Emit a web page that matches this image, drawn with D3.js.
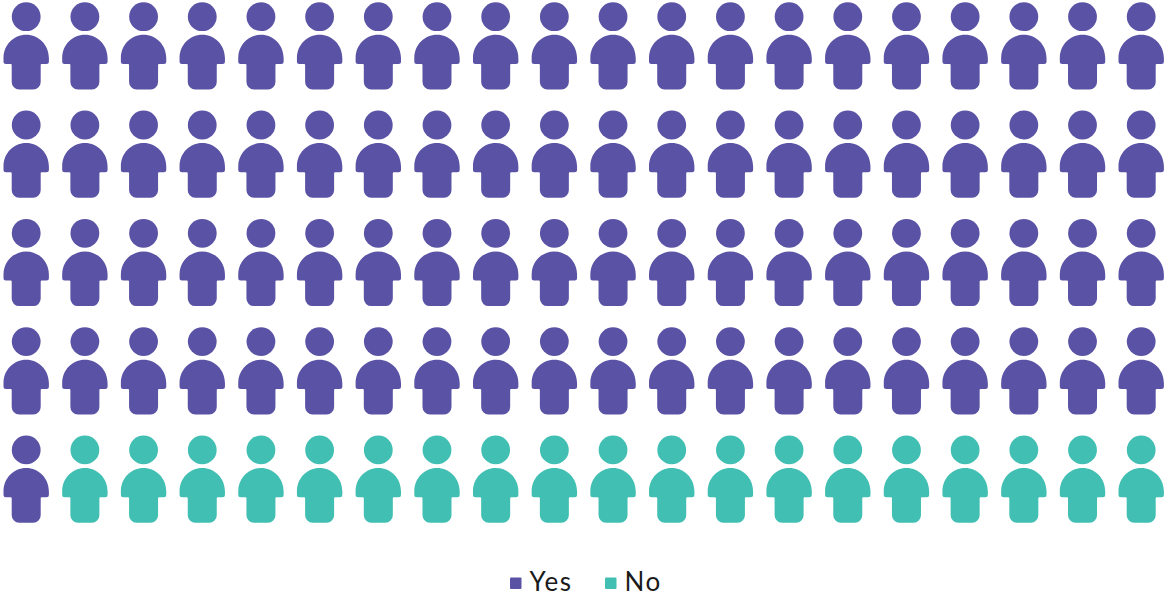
<!DOCTYPE html>
<html><head><meta charset="utf-8">
<script src="https://cdn.jsdelivr.net/npm/d3@7"></script>
<style>html,body{margin:0;padding:0;background:#fff;overflow:hidden}svg{display:block}</style>
</head><body><svg id="c" width="1166" height="596"></svg>
<script>
const categories = ["Yes","No"];
const counts = [81,19];
const colors = ["#5a53a5","#40bfb2"];
const columns = 20, rows = 5;

const svg = d3.select("#c");
const x = d3.scaleLinear().domain([0,columns-1]).range([26.2,1141.2]);
const y = d3.scaleLinear().domain([0,rows-1]).range([16.7,449.9]);
const color = d3.scaleOrdinal(categories,colors);

const cells = categories.flatMap((c,i)=>d3.range(counts[i]).map(()=>c));
const iconPath = (()=>{
  const p = d3.path();
  p.moveTo(-20.2,47.3);
  p.arcTo(-22.7,47.3,-22.7,44.8,2.5);
  p.lineTo(-22.7,41.3);
  p.bezierCurveTo(-22.7,28.3,-12.5,18.1,0,18.1);
  p.bezierCurveTo(12.5,18.1,22.7,28.3,22.7,41.3);
  p.lineTo(22.7,44.8);
  p.arcTo(22.7,47.3,20.2,47.3,2.5);
  p.lineTo(15.5,47.3);
  p.arcTo(14.5,47.3,14.5,48.3,1);
  p.lineTo(14.5,65.3);
  p.arcTo(14.5,72.8,7,72.8,7.5);
  p.lineTo(-7,72.8);
  p.arcTo(-14.5,72.8,-14.5,65.3,7.5);
  p.lineTo(-14.5,48.3);
  p.arcTo(-14.5,47.3,-15.5,47.3,1);
  p.closePath();
  return p.toString();
})();

const g = svg.append("g").selectAll("g").data(cells).join("g")
  .attr("transform",(d,i)=>`translate(${x(i%columns)},${y(Math.floor(i/columns))})`)
  .attr("fill",d=>color(d));
g.append("circle").attr("r",14.4);
g.append("path").attr("d",iconPath);

const legendX = d3.scaleOrdinal(categories,[510,605]);
const lg = svg.append("g").selectAll("g").data(categories).join("g")
  .attr("transform",d=>`translate(${legendX(d)},577.5)`);
lg.append("rect").attr("width",11.5).attr("height",11.5).attr("rx",1).attr("fill",d=>color(d));
lg.append("text").attr("x",19.5).attr("y",13).text(d=>d)
  .attr("font-family","Lato, 'Open Sans', sans-serif").attr("font-size",26).attr("letter-spacing",1.6).attr("fill","#1a1a1a");
</script></body></html>
